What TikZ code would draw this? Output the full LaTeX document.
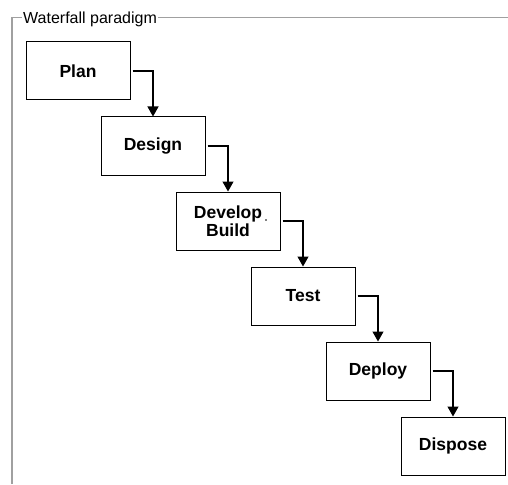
\documentclass[tikz,border=0pt]{standalone}
\usepackage{fontspec}
\setmainfont{Liberation Sans}
\usetikzlibrary{arrows.meta}
\definecolor{framegray}{RGB}{160,160,160}
\begin{document}
\begin{tikzpicture}[x=1pt,y=-1pt,
  stage/.style={draw=black,line width=1pt,minimum width=104pt,minimum height=58pt,
    inner sep=0pt,align=center,font=\fontsize{17.5}{18.5}\selectfont\bfseries},
  flow/.style={draw=black,line width=1.2pt,-{Triangle[length=10pt,width=11pt]}},
  groupline/.style={draw=framegray,line width=1.3pt}]
  \useasboundingbox[fill=white] (0,0) rectangle (508,484);
  % group frame
  \draw[groupline] (12,484) -- (12,17.5) -- (508,17.5);
  \node[fill=white,inner sep=1.5pt,anchor=west,font=\fontsize{16}{17}\selectfont]
    (title) at (21.5,19) {Waterfall paradigm};
  % stages
  \node[stage] (plan)    at (78,71)   {Plan};
  \node[stage] (design)  at (153,146) {Design};
  \node[stage] (develop) at (228,221) {Develop\\Build};
  \node[stage] (test)    at (303,296) {Test};
  \node[stage] (deploy)  at (378,371) {Deploy};
  \node[stage] (dispose) at (453,446) {Dispose};
  \fill (266,220) circle (0.8pt);
  % connectors
  \draw[flow] ([xshift=2pt]plan.east)    -| (design.north);
  \draw[flow] ([xshift=2pt]design.east)  -| (develop.north);
  \draw[flow] ([xshift=2pt]develop.east) -| (test.north);
  \draw[flow] ([xshift=2pt]test.east)    -| (deploy.north);
  \draw[flow] ([xshift=2pt]deploy.east)  -| (dispose.north);
\end{tikzpicture}
\end{document}
